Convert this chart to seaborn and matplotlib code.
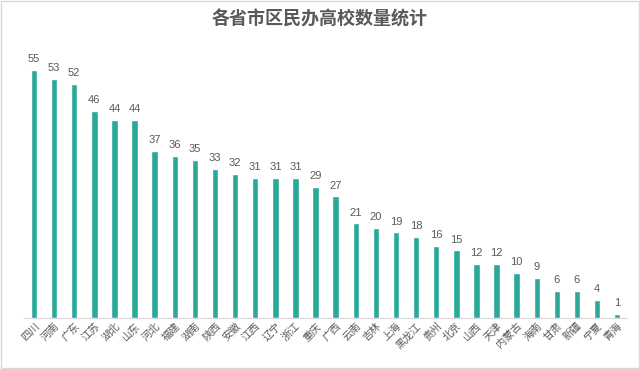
import matplotlib
matplotlib.use('Agg')
import pandas as pd
import seaborn as sns
import matplotlib.pyplot as plt

provinces = ['四川', '河南', '广东', '江苏', '湖北', '山东', '河北', '福建', '湖南', '陕西',
             '安徽', '江西', '辽宁', '浙江', '重庆', '广西', '云南', '吉林', '上海', '黑龙江',
             '贵州', '北京', '山西', '天津', '内蒙古', '海南', '甘肃', '新疆', '宁夏', '青海']
counts = [55, 53, 52, 46, 44, 44, 37, 36, 35, 33,
          32, 31, 31, 31, 29, 27, 21, 20, 19, 18,
          16, 15, 12, 12, 10, 9, 6, 6, 4, 1]

df = pd.DataFrame({'province': provinces, 'count': counts})

sns.set_style('white')
plt.rcParams['font.family'] = ['Noto Sans CJK SC', 'DejaVu Sans']

fig = plt.figure(figsize=(6.4, 3.69), dpi=100)
ax = fig.add_axes([0.0375, 0.138, 0.9425, 0.733])
sns.barplot(data=df, x='province', y='count', color='#2aa898', saturation=1,
            width=0.32, ax=ax)

for i, v in enumerate(counts):
    ax.text(i, v + 1.3, str(v), ha='center', va='bottom', fontsize=8,
            color='#595959', family=['Liberation Sans', 'DejaVu Sans'])

ax.set_xlim(-0.5, 29.5)
ax.set_ylim(0, 60)
ax.set_xlabel('')
ax.set_ylabel('')
ax.set_yticks([])
ax.tick_params(axis='x', length=0, pad=2)
plt.setp(ax.get_xticklabels(), rotation=45, ha='right', rotation_mode='anchor',
         fontsize=7.5, color='#595959')
for s in ['top', 'right', 'left']:
    ax.spines[s].set_visible(False)
ax.spines['bottom'].set_color('#d9d9d9')
ax.spines['bottom'].set_linewidth(0.8)

fig.text(0.5, 0.948, '各省市区民办高校数量统计', ha='center', va='center',
         fontsize=13, fontweight='bold', color='#595959')

border = plt.Rectangle((0.002, 0.003), 0.996, 0.994, transform=fig.transFigure,
                       fill=False, edgecolor='#d9d9d9', linewidth=1)
fig.patches.append(border)

fig.savefig('out.png', dpi=100)
